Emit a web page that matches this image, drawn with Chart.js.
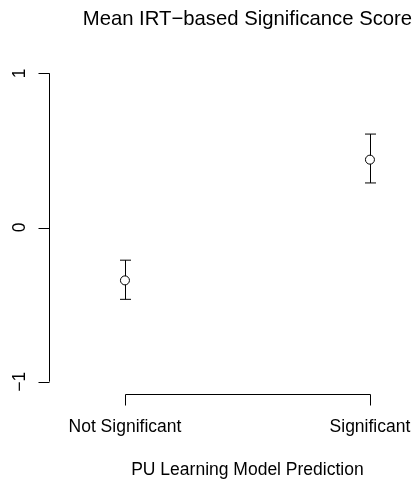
<!DOCTYPE html>
<html>
<head>
<meta charset="utf-8">
<script src="https://cdn.jsdelivr.net/npm/chart.js@4/dist/chart.umd.min.js"></script>
<style>
  body { margin: 0; background: #fff; }
  canvas { display: block; }
</style>
</head>
<body>
<canvas id="chartOne" width="416" height="483"></canvas>
<script>
// group labels and their positions on the x axis
const groups = ["Not Significant", "Significant"];
const groupX = [1, 2];

// mean score and interval ends per group
const means = [-0.343, 0.440];
const lower = [-0.466, 0.289];
const upper = [-0.212, 0.606];

const yTicks = [-1, 0, 1];

const titleText = "Mean IRT\u2212based Significance Score";
const xTitle = "PU Learning Model Prediction";

const fontFam = '"Liberation Sans", Arial, Helvetica, sans-serif';

// R-style axes, titles and error bars drawn from the chart scales
const baseStyle = {
    id: "baseStyle",
    beforeDatasetsDraw(chart) {
        const ctx = chart.ctx;
        const xs = chart.scales.x, ys = chart.scales.y;
        const area = chart.chartArea;
        ctx.save();
        ctx.strokeStyle = "#000";
        ctx.fillStyle = "#000";
        ctx.lineWidth = 1;

        // error bars
        for (let i = 0; i < means.length; i++) {
            const px = Math.round(xs.getPixelForValue(groupX[i])) + 0.5;
            const top = ys.getPixelForValue(upper[i]);
            const bot = ys.getPixelForValue(lower[i]);
            ctx.beginPath();
            ctx.moveTo(px, top);
            ctx.lineTo(px, bot);
            ctx.moveTo(px - 5.5, top);
            ctx.lineTo(px + 5.5, top);
            ctx.moveTo(px - 5.5, bot);
            ctx.lineTo(px + 5.5, bot);
            ctx.stroke();
        }

        // y axis line and ticks
        const ax = area.left + 0.5;
        ctx.beginPath();
        ctx.moveTo(ax, ys.getPixelForValue(yTicks[0]));
        ctx.lineTo(ax, ys.getPixelForValue(yTicks[yTicks.length - 1]));
        yTicks.forEach(v => {
            const py = Math.round(ys.getPixelForValue(v)) + 0.5;
            ctx.moveTo(ax, py);
            ctx.lineTo(ax - 11, py);
        });
        ctx.stroke();

        ctx.font = "17.5px " + fontFam;
        yTicks.forEach(v => {
            const py = ys.getPixelForValue(v);
            ctx.save();
            ctx.translate(25, py);
            ctx.rotate(-Math.PI / 2);
            ctx.textAlign = "center";
            ctx.textBaseline = "alphabetic";
            ctx.fillText(v < 0 ? "\u2212" + Math.abs(v) : String(v), 0, 0);
            ctx.restore();
        });

        // x axis line and ticks
        const ay = area.bottom + 0.5;
        const x0 = Math.round(xs.getPixelForValue(groupX[0])) + 0.5;
        const x1 = Math.round(xs.getPixelForValue(groupX[groupX.length - 1])) + 0.5;
        ctx.beginPath();
        ctx.moveTo(x0, ay);
        ctx.lineTo(x1, ay);
        groupX.forEach(g => {
            const px = Math.round(xs.getPixelForValue(g)) + 0.5;
            ctx.moveTo(px, ay);
            ctx.lineTo(px, ay + 11);
        });
        ctx.stroke();

        ctx.textAlign = "center";
        ctx.textBaseline = "alphabetic";
        groups.forEach((g, i) => {
            ctx.fillText(g, xs.getPixelForValue(groupX[i]), 432);
        });

        // titles centred on the plot region
        const mid = xs.getPixelForValue(1.5);
        ctx.fillText(xTitle, mid, 475);
        ctx.font = "20.3px " + fontFam;
        ctx.fillText(titleText, mid, 25);
        ctx.restore();
    }
};

new Chart(document.getElementById("chartOne").getContext("2d"), {
    type: "scatter",
    data: {
        datasets: [{
            data: groupX.map((x, i) => ({ x: x, y: means[i] })),
            pointStyle: "circle",
            pointRadius: 4.5,
            pointBorderWidth: 1,
            pointBorderColor: "#000",
            pointBackgroundColor: "#fff"
        }]
    },
    options: {
        responsive: false,
        animation: false,
        layout: { autoPadding: false, padding: { left: 49, top: 61, bottom: 89, right: 0 } },
        scales: {
            x: { type: "linear", min: 0.69, max: 2.188, display: false },
            y: { type: "linear", min: -1.08, max: 1.08, display: false }
        },
        plugins: {
            legend: { display: false },
            tooltip: { enabled: false },
            title: { display: false }
        }
    },
    plugins: [baseStyle]
});
</script>
</body>
</html>
